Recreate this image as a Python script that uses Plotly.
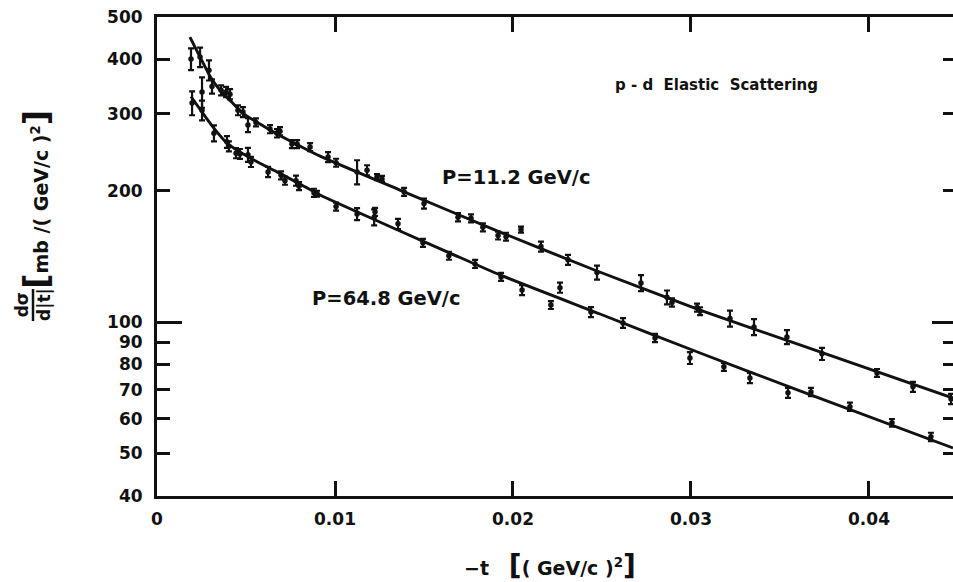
import math
import plotly.graph_objects as go

# ---------------- data ----------------
t_112 = [0.00191, 0.00242, 0.00292, 0.00309, 0.0036, 0.00388, 0.0041, 0.00455, 0.00483, 0.00511,
         0.00556, 0.00635, 0.00674, 0.00691, 0.00758, 0.00787, 0.0086, 0.00961, 0.01006, 0.01124,
         0.0118, 0.01236, 0.01264, 0.01388, 0.015, 0.01691, 0.01764, 0.01831, 0.01916, 0.01961,
         0.02045, 0.02157, 0.02309, 0.02472, 0.02719, 0.02865, 0.02893, 0.03034, 0.03051, 0.03219,
         0.03354, 0.03539, 0.03736, 0.04045, 0.04247, 0.04461]
ds_112 = [401, 405, 378, 347, 340, 337, 333, 306, 303, 283,
          287, 277, 271, 274, 256, 256, 252, 239, 232, 221,
          223, 215, 213, 199, 187, 174, 173, 165, 158, 157,
          163, 149, 139, 130, 123, 114, 111, 108, 106, 102,
          97.5, 92.5, 84.6, 76.5, 71.1, 66.7]
err_112 = [23, 21, 20, 13, 9, 9, 9, 8, 8, 10.5,
           6, 6, 6, 6, 5.4, 5.4, 5.3, 6.3, 4.9, 14,
           5.9, 3.4, 3.4, 4.2, 5, 3.7, 3.7, 3.5, 3.3, 3.3,
           2.6, 3.9, 3.7, 4.8, 5.2, 4.2, 2.4, 2.3, 2.2, 4.3,
           4.1, 3.4, 2.7, 1.6, 1.9, 1.8]

t_648 = [0.00197, 0.00253, 0.00253, 0.0032, 0.00393, 0.00404, 0.00444, 0.00466, 0.00511, 0.00528,
         0.00624, 0.00697, 0.00719, 0.00781, 0.00798, 0.00882, 0.00899, 0.01006, 0.01124, 0.0122,
         0.01225, 0.01354, 0.01494, 0.0164, 0.01787, 0.01933, 0.02051, 0.02213, 0.02264, 0.02438,
         0.02618, 0.02798, 0.02994, 0.03185, 0.03331, 0.03545, 0.03674, 0.03893, 0.04129, 0.04348]
ds_648 = [318, 337, 306, 271, 259, 253, 244, 243, 242, 233,
          221, 217, 211, 211, 205, 198, 197, 184, 177, 174,
          179, 168, 152, 142, 136, 127, 118.5, 109.5, 120, 105.5,
          99.6, 92, 82.8, 79, 74.5, 68.9, 69.2, 64, 58.8, 54.6]
err_648 = [20, 27, 16, 11.5, 8, 6.7, 6.5, 6.4, 9, 6.2,
           5.9, 4.6, 4.5, 5.6, 4.3, 4.2, 3.1, 3.9, 5.6, 7.4,
           3.8, 4.5, 3.2, 3, 2.9, 2.7, 3.1, 2.3, 3.2, 2.8,
           2.6, 2, 2.6, 1.7, 2, 1.8, 1.5, 1.4, 1.2, 1.2]

fit_t_112 = [0.00185, 0.00242, 0.00298, 0.00354, 0.00421, 0.00483, 0.00579, 0.00674,
             0.00803, 0.00916, 0.01365, 0.01927, 0.02472, 0.03051, 0.03612, 0.04472]
fit_ds_112 = [450, 405, 366, 340, 319, 301, 284.4, 269.8, 253.3, 240.2, 200.8, 160.9, 131,
              106.6, 88.7, 67]

fit_t_648 = [0.00191, 0.00253, 0.00315, 0.00393, 0.00522, 0.00674, 0.00803, 0.00916,
             0.01365, 0.01646, 0.01927, 0.02489, 0.03051, 0.03612, 0.04472]
fit_ds_648 = [329, 303, 280, 257.3, 238, 221, 207.3, 195.6, 161.8, 144, 128.3, 104.4, 85,
              69.6, 51.5]

x_ticks = [0, 0.01, 0.02, 0.03, 0.04]
x_ticktext = ["0", "0.01", "0.02", "0.03", "0.04"]
y_ticks = [40, 50, 60, 70, 80, 90, 100, 200, 300, 400, 500]
y_ticktext = ["40", "50", "60", "70", "80", "90", "100", "200", "300", "400", "500"]
y_inner_ticks = [50, 60, 70, 80, 90, 100, 200, 300, 400]

# ---------------- figure ----------------
INK = "#111111"
FONT = "DejaVu Sans"

fig = go.Figure()

for tx, ty in [(fit_t_112, fit_ds_112), (fit_t_648, fit_ds_648)]:
    fig.add_trace(go.Scatter(x=tx, y=ty, mode="lines",
                             line=dict(color=INK, width=2.9, shape="spline", smoothing=0.6),
                             showlegend=False, hoverinfo="skip"))

for tx, ty, te in [(t_112, ds_112, err_112), (t_648, ds_648, err_648)]:
    fig.add_trace(go.Scatter(x=tx, y=ty, mode="markers",
                             marker=dict(color=INK, size=5.5),
                             error_y=dict(type="data", array=te, visible=True,
                                          color=INK, thickness=2.2, width=3),
                             showlegend=False))

# empty traces so the overlay axes (extra ticks) are rendered
for ya in ["y2", "y3", "y4"]:
    fig.add_trace(go.Scatter(x=[None], y=[None], yaxis=ya, showlegend=False, hoverinfo="skip"))

yr = [math.log10(40) - 0.0004, math.log10(500) + 0.0004]
tickfont = dict(family=FONT, size=17, weight="bold", color=INK)

fig.update_layout(
    width=953, height=582,
    margin=dict(l=157, r=0, t=17, b=86, autoexpand=False),
    paper_bgcolor="white", plot_bgcolor="white",
    font=dict(family=FONT, color=INK, size=17, weight="bold"),
    xaxis=dict(range=[0, 0.04472], tickvals=x_ticks, ticktext=x_ticktext,
               ticks="inside", ticklen=15, tickwidth=2.5, tickcolor=INK,
               showline=True, linewidth=3, linecolor=INK, mirror="ticks",
               showgrid=False, zeroline=False, ticklabelstandoff=6,
               automargin=False, tickfont=tickfont),
    yaxis=dict(type="log", range=yr, tickvals=y_ticks, ticktext=y_ticktext,
               ticks="inside", ticklen=13, tickwidth=2.5, tickcolor=INK,
               showline=True, linewidth=3, linecolor=INK,
               showgrid=False, zeroline=False, ticklabelstandoff=8,
               automargin=False, tickfont=tickfont),
    yaxis3=dict(type="log", range=yr, overlaying="y", side="left", anchor="x",
                tickvals=[100], ticks="inside", ticklen=25, tickwidth=2.5, tickcolor=INK,
                showticklabels=False, showline=False, showgrid=False, zeroline=False,
                automargin=False),
    yaxis2=dict(type="log", range=yr, overlaying="y", side="right", anchor="x",
                tickvals=y_inner_ticks, ticks="inside", ticklen=10, tickwidth=2.5, tickcolor=INK,
                showticklabels=False, showline=False, showgrid=False, zeroline=False,
                automargin=False),
    yaxis4=dict(type="log", range=yr, overlaying="y", side="right", anchor="x",
                tickvals=[100], ticks="inside", ticklen=21, tickwidth=2.5, tickcolor=INK,
                showticklabels=False, showline=False, showgrid=False, zeroline=False,
                automargin=False),
)

def px2x(px):
    return (px - 157) / 796.0

def py2y(py):
    return (496 - py) / 479.0

ann_font = dict(family=FONT, size=19.5, weight="bold", color=INK)

def note(text, px, py, font, xanchor="center", yanchor="middle", angle=0):
    fig.add_annotation(text=text, x=px2x(px), y=py2y(py), xref="paper", yref="paper",
                       xanchor=xanchor, yanchor=yanchor, showarrow=False,
                       textangle=angle, font=font)

note("p - d  Elastic  Scattering", 716, 85, dict(family=FONT, size=15, weight="bold", color=INK))
note("P=11.2 GeV/c", 440, 177, ann_font, xanchor="left")
note("P=64.8 GeV/c", 310, 298, ann_font, xanchor="left")

# x axis title
note("−t   <span style='font-size:28px'>[</span>( GeV/c )<sup>2</sup><span style='font-size:28px'>]</span>",
     550, 565, dict(family=FONT, size=19, weight="bold", color=INK))

# y axis title (rotated)
note("<span style='font-size:34px'>[</span>mb /( GeV/c )<sup>2</sup><span style='font-size:34px'>]</span>",
     36, 200, dict(family=FONT, size=19, weight="bold", color=INK), angle=-90)
note("dσ<br>d|t|", 33, 305, dict(family=FONT, size=17, weight="bold", color=INK), angle=-90)
fig.add_shape(type="line", xref="paper", yref="paper",
              x0=px2x(33), x1=px2x(33), y0=py2y(289), y1=py2y(321),
              line=dict(color=INK, width=2.5))

fig.write_html("out.html",
               config={"displayModeBar": False},
               post_script="document.body.style.margin='0px';document.body.style.overflow='hidden';")
